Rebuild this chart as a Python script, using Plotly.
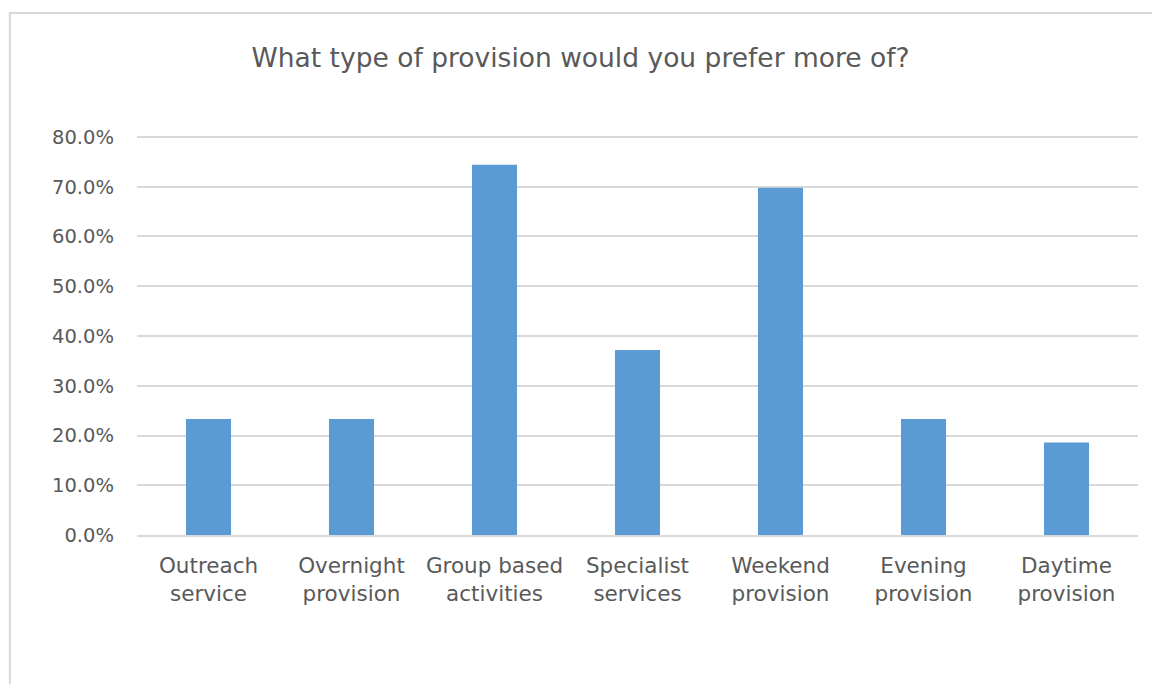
import plotly.graph_objects as go

categories = ["Outreach<br>service", "Overnight<br>provision", "Group based<br>activities",
              "Specialist<br>services", "Weekend<br>provision", "Evening<br>provision",
              "Daytime<br>provision"]
shares = [23.3, 23.3, 74.4, 37.2, 69.8, 23.3, 18.6]
y_ticks = [0, 10, 20, 30, 40, 50, 60, 70, 80]
y_tick_labels = [f"{v:.1f}%" for v in y_ticks]

FONT = "DejaVu Sans"
GREY = "#595959"

fig = go.Figure(go.Bar(
    x=categories, y=shares,
    marker=dict(color="#5b9bd5", line=dict(width=0)),
    hoverinfo="x+y",
))

fig.update_layout(
    width=1152, height=684,
    margin=dict(l=137, r=14, t=135, b=149),
    paper_bgcolor="white", plot_bgcolor="white",
    bargap=0.685,
    showlegend=False,
    font=dict(family=FONT, color=GREY),
    title=dict(text="What type of provision would you prefer more of?",
               x=0.504, xanchor="center", y=0.915, yanchor="middle",
               font=dict(size=26.5, color=GREY, family=FONT)),
    xaxis=dict(showgrid=False, showline=True, linecolor="#d9d9d9", linewidth=1.5,
               ticks="", tickfont=dict(size=21.5, color=GREY), ticklabelstandoff=10),
    yaxis=dict(range=[0, 80.4], tickvals=y_ticks, ticktext=y_tick_labels,
               showgrid=True, gridcolor="#d9d9d9", gridwidth=1.5, zeroline=False,
               showline=False, ticks="", tickfont=dict(size=19.5, color=GREY),
               ticklabelstandoff=22),
    shapes=[dict(type="rect", xref="paper", yref="paper",
                 x0=-0.127, x1=1.05, y0=-0.6, y1=1.305,
                 line=dict(color="#d9d9d9", width=2))],
)

fig.write_html("out.html")
